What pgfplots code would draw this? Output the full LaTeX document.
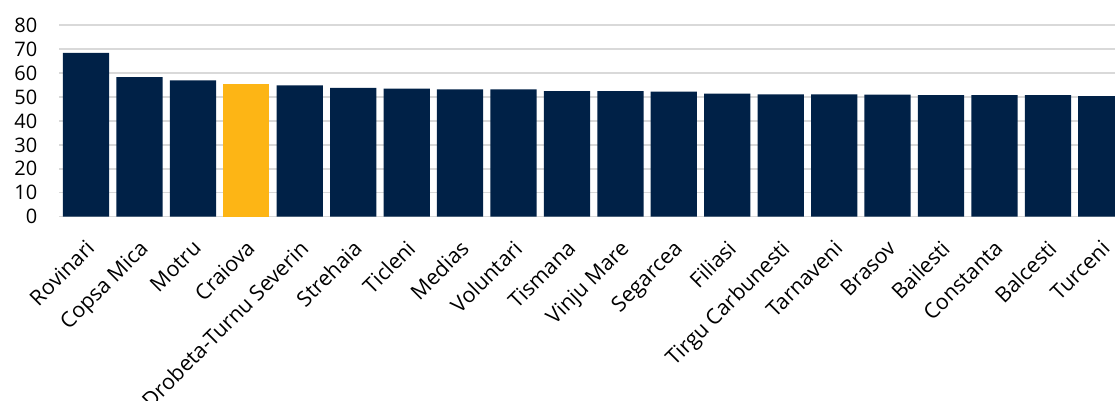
\documentclass[border=0pt]{standalone}
\usepackage{fontspec}
\setmainfont{Open Sans}
\usepackage{pgfplots}
\pgfplotsset{compat=1.18}
\definecolor{navy}{HTML}{002147}
\definecolor{gold}{HTML}{FDB515}
\definecolor{gridgray}{HTML}{D9D9D9}
\begin{document}
\begin{tikzpicture}[x=1pt,y=1pt]
\begin{axis}[
  at={(0,0)}, anchor=south west,
  scale only axis,
  width=801.6pt, height=143.6pt,
  xmin=-0.5, xmax=19.5, ymin=0, ymax=80,
  ytick={0,10,...,80},
  xtick={0,...,19},
  xticklabels={Rovinari,Copsa Mica,Motru,Craiova,Drobeta-Turnu Severin,Strehaia,Ticleni,Medias,Voluntari,Tismana,Vinju Mare,Segarcea,Filiasi,Tirgu Carbunesti,Tarnaveni,Brasov,Bailesti,Constanta,Balcesti,Turceni},
  x tick label style={xshift=-1pt, yshift=-15pt, rotate=45, anchor=north east, font=\fontsize{16}{18}\selectfont, inner sep=1pt},
  y tick label style={xshift=-13pt, font=\fontsize{15}{17}\selectfont},
  /pgf/number format/assume math mode=true,
  major tick length=0pt,
  axis line style={draw=none},
  ymajorgrids, grid style={gridgray, line width=1.1pt},
  ybar, bar width=34.7pt,
  tick label style={text=black},
  clip=false,
]
\addplot[fill=navy, draw=none, bar shift=0pt] coordinates {
(0,68.4) (1,58.3) (2,57.0) (4,54.9) (5,53.8) (6,53.5) (7,53.2) (8,53.2) (9,52.5) (10,52.5) (11,52.2) (12,51.4) (13,51.1) (14,51.1) (15,51.0) (16,50.8) (17,50.8) (18,50.8) (19,50.4)
};
\addplot[fill=gold, draw=none, bar shift=0pt] coordinates {(3,55.5)};
\end{axis}
\pgfresetboundingbox
\path[use as bounding box] (-44.5,-138.2) rectangle (791.8,162.5);
\end{tikzpicture}
\end{document}
